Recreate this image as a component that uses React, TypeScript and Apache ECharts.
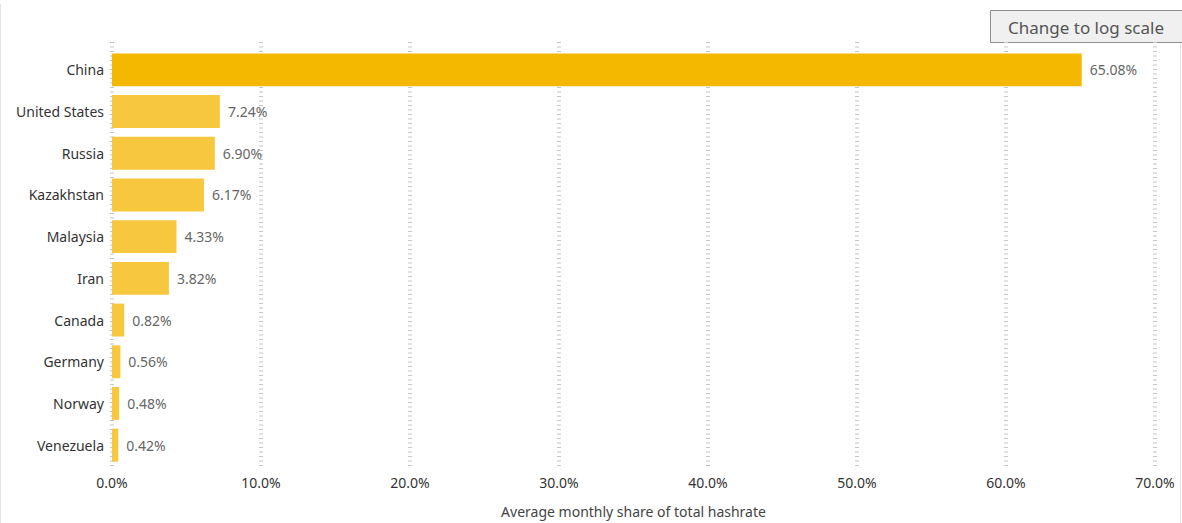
import React, { useRef, useEffect } from 'react';
import * as echarts from 'echarts';

const countries = [
  'China',
  'United States',
  'Russia',
  'Kazakhstan',
  'Malaysia',
  'Iran',
  'Canada',
  'Germany',
  'Norway',
  'Venezuela',
];
const shares = [65.08, 7.24, 6.9, 6.17, 4.33, 3.82, 0.82, 0.56, 0.48, 0.42];

const FONT = '"Segoe UI", "Noto Sans", sans-serif';
const TOP_COLOR = '#F5B800';
const BAR_COLOR = '#F7C73E';

const App: React.FC = () => {
  const chartRef = useRef<HTMLDivElement>(null);

  useEffect(() => {
    if (!chartRef.current) return;
    const chart = echarts.init(chartRef.current, undefined, { renderer: 'svg' });

    const option: echarts.EChartsOption = {
      animation: false,
      textStyle: { fontFamily: FONT },
      grid: [
        { left: 112, right: 27, top: 49, bottom: 57 },
        { left: 112, right: 27, top: 42, bottom: 47 },
      ],
      xAxis: [
        {
          gridIndex: 0,
          type: 'value',
          min: 0,
          max: 70,
          interval: 10,
          show: false,
        },
        {
          gridIndex: 1,
          type: 'value',
          min: 0,
          max: 70,
          interval: 10,
          axisLine: { show: false },
          axisTick: { show: false },
          // the grey dash marks that run down each gridline
          splitLine: {
            show: true,
            lineStyle: { color: '#c6c6c6', width: 4, type: [1, 3.5] },
          },
          axisLabel: {
            margin: 9,
            fontSize: 14,
            color: '#333',
            fontFamily: FONT,
            formatter: (v: number) => v.toFixed(1) + '%',
          },
          name: 'Average monthly share of total hashrate',
          nameLocation: 'middle',
          nameGap: 38,
          nameTextStyle: { fontSize: 14, color: '#444', fontFamily: FONT },
        },
      ],
      yAxis: [
        {
          gridIndex: 0,
          type: 'category',
          data: countries,
          inverse: true,
          axisLine: { show: false },
          axisTick: { show: false },
          axisLabel: { margin: 8, fontSize: 14, color: '#333', fontFamily: FONT },
        },
        { gridIndex: 1, type: 'value', show: false },
      ],
      series: [
        {
          type: 'bar',
          xAxisIndex: 0,
          yAxisIndex: 0,
          barCategoryGap: '21%',
          data: shares.map((v, i) => ({
            value: v,
            itemStyle: { color: i === 0 ? TOP_COLOR : BAR_COLOR },
          })),
          label: {
            show: true,
            position: 'right',
            distance: 8,
            fontSize: 14,
            color: '#666',
            fontFamily: FONT,
            formatter: (p: any) => p.value.toFixed(2) + '%',
          },
        },
      ],
      graphic: [
        {
          type: 'line',
          shape: { x1: 0.5, y1: 4, x2: 0.5, y2: 523 },
          style: { stroke: '#e3e3e3', lineWidth: 1 },
        },
        {
          type: 'line',
          shape: { x1: 1180.5, y1: 42, x2: 1180.5, y2: 523 },
          style: { stroke: '#e3e3e3', lineWidth: 1 },
        },
        {
          type: 'rect',
          shape: { x: 990.5, y: 10.5, width: 192, height: 32 },
          style: { fill: '#f0f0f0', stroke: '#8f8f8f', lineWidth: 1 },
        },
        {
          type: 'text',
          x: 1086,
          y: 27,
          style: {
            text: 'Change to log scale',
            fontSize: 17,
            fontFamily: FONT,
            fill: '#555',
            align: 'center',
            verticalAlign: 'middle',
          },
        },
      ],
    };

    chart.setOption(option);
    return () => {
      chart.dispose();
    };
  }, []);

  return (
    <div
      ref={chartRef}
      style={{ position: 'absolute', left: 0, top: 0, width: 1182, height: 523, background: '#fff' }}
    />
  );
};

export default App;
